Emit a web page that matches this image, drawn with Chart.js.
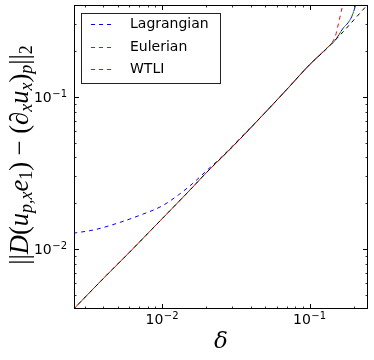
<!DOCTYPE html>
<html>
<head>
<meta charset="utf-8">
<script src="https://cdn.jsdelivr.net/npm/chart.js@4.4.1/dist/chart.umd.min.js"></script>
<style>
  html, body { margin: 0; padding: 0; background: #fff; }
  #wrap { width: 374px; height: 360px; }
</style>
</head>
<body>
<div id="wrap"><canvas id="c" width="374" height="360"></canvas></div>
<script>
    'use strict';

    // reference slope (black, no legend entry)
    const refDelta = [0.0025, 0.004, 0.006, 0.01, 0.015, 0.02, 0.03, 0.05, 0.07, 0.1, 0.13, 0.16, 0.2, 0.25];
    const refErr   = [0.004, 0.0064, 0.0095, 0.0158, 0.0237, 0.0318, 0.047, 0.079, 0.112, 0.163, 0.207, 0.254, 0.322, 0.41];

    const lagDelta = [0.0025, 0.0035, 0.005, 0.007, 0.01, 0.013, 0.016, 0.02, 0.025, 0.03, 0.05, 0.07, 0.1, 0.13, 0.15, 0.169, 0.182, 0.193, 0.206, 0.212];
    const lagErr   = [0.0127, 0.0134, 0.0148, 0.0166, 0.0192, 0.0228, 0.0268, 0.0327, 0.0398, 0.0475, 0.079, 0.112, 0.163, 0.208, 0.238, 0.284, 0.307, 0.337, 0.403, 0.43];

    const eulDelta = [0.0025, 0.004, 0.006, 0.01, 0.015, 0.02, 0.03, 0.05, 0.07, 0.1, 0.13, 0.15, 0.169, 0.182, 0.193, 0.206, 0.212];
    const eulErr   = [0.004, 0.0064, 0.0095, 0.0158, 0.0237, 0.0318, 0.047, 0.079, 0.112, 0.163, 0.208, 0.238, 0.284, 0.307, 0.337, 0.403, 0.43];

    const wtliDelta = [0.0025, 0.004, 0.006, 0.01, 0.015, 0.02, 0.03, 0.05, 0.07, 0.1, 0.13, 0.14, 0.149, 0.154, 0.159, 0.168, 0.172];
    const wtliErr   = [0.004, 0.0064, 0.0095, 0.0158, 0.0237, 0.0318, 0.047, 0.079, 0.112, 0.163, 0.208, 0.225, 0.248, 0.28, 0.321, 0.403, 0.44];

    const legendLabels = ['Lagrangian', 'Eulerian', 'WTLI'];
    const legendColors = ['#0000ff', '#008000', '#ff0000'];

    const xMajor = [0.01, 0.1];
    const yMajor = [0.01, 0.1];
    const X_MIN = 0.00253, X_MAX = 0.249;
    const Y_MIN = 0.00403, Y_MAX = 0.403;

    function pts(xs, ys) {
        return xs.map((x, i) => ({ x: x, y: ys[i] }));
    }

    function series(label, xs, ys, color, offset) {
        return {
            label,
            data: pts(xs, ys),
            borderColor: color,
            borderWidth: 1,
            borderDash: [4, 4],
            borderDashOffset: offset,
            pointRadius: 0,
            fill: false,
            cubicInterpolationMode: 'monotone'
        };
    }

    function minorTicks(min, max) {
        const out = [];
        for (let e = -4; e <= 1; e++) {
            for (let m = 2; m <= 9; m++) {
                const v = m * Math.pow(10, e);
                if (v >= min && v <= max) out.push(v);
            }
        }
        return out;
    }

    // "10" with superscript exponent
    function drawPow(ctx, exp, x, y, align) {
        const base = '10';
        const sup = '\u2212' + exp;
        ctx.font = '14px "DejaVu Sans"';
        const wb = ctx.measureText(base).width;
        ctx.font = '10px "DejaVu Sans"';
        const ws = ctx.measureText(sup).width;
        const total = wb + ws + 0.5;
        let left = x;
        if (align === 'center') left = x - total / 2;
        if (align === 'right') left = x - total;
        ctx.textAlign = 'left';
        ctx.textBaseline = 'alphabetic';
        ctx.font = '14px "DejaVu Sans"';
        ctx.fillText(base, left, y);
        ctx.font = '10px "DejaVu Sans"';
        ctx.fillText(sup, left + wb + 0.5, y - 5);
    }

    // y axis label as runs of math text
    const yTitleRuns = [
        { t: '||', s: 0, it: false },
        { t: 'D', s: 0, it: true },
        { t: '(', s: 0, it: false },
        { t: 'u', s: 0, it: true },
        { t: 'p,x', s: 1, it: true },
        { t: 'e', s: 0, it: true },
        { t: '1', s: 1, it: false },
        { t: ')', s: 0, it: false },
        { t: ' \u2212 ', s: 0, it: false },
        { t: '(', s: 0, it: false },
        { t: '\u2202', s: 0, it: false },
        { t: 'x', s: 1, it: true },
        { t: 'u', s: 0, it: true },
        { t: 'x', s: 1, it: true },
        { t: ')', s: 0, it: false },
        { t: 'p', s: 1, it: true },
        { t: '||', s: 0, it: false },
        { t: '2', s: 1, it: false }
    ];
    const Y_TITLE_LEN = 220;

    function runFont(r, size) {
        const px = r.s ? size * 0.68 : size;
        return (r.it ? 'italic ' : '') + px.toFixed(1) + 'px "Liberation Serif"';
    }

    function runsWidth(ctx, size) {
        let total = 0;
        yTitleRuns.forEach(r => { ctx.font = runFont(r, size); total += ctx.measureText(r.t).width; });
        return total;
    }

    function drawYTitle(ctx, cx, cy) {
        let size = 20;
        size = size * Y_TITLE_LEN / runsWidth(ctx, size);
        const total = runsWidth(ctx, size);
        ctx.save();
        ctx.translate(cx, cy);
        ctx.rotate(-Math.PI / 2);
        ctx.textAlign = 'left';
        ctx.textBaseline = 'alphabetic';
        let x = -total / 2;
        yTitleRuns.forEach(r => {
            ctx.font = runFont(r, size);
            ctx.fillText(r.t, x, r.s ? 9 : 5);
            x += ctx.measureText(r.t).width;
        });
        ctx.restore();
    }

    const framePlugin = {
        id: 'frame',
        afterDatasetsDraw(chart) {
            const ctx = chart.ctx;
            const a = chart.chartArea;
            const xs = chart.scales.x;
            const ys = chart.scales.y;
            ctx.save();
            ctx.fillStyle = '#000';
            ctx.strokeStyle = '#000';
            ctx.lineWidth = 1;

            // ticks, inward on all four sides
            function tickX(v, len) {
                const px = Math.round(xs.getPixelForValue(v)) + 0.5;
                ctx.beginPath();
                ctx.moveTo(px, a.bottom); ctx.lineTo(px, a.bottom - len);
                ctx.moveTo(px, a.top); ctx.lineTo(px, a.top + len);
                ctx.stroke();
            }
            function tickY(v, len) {
                const py = Math.round(ys.getPixelForValue(v)) + 0.5;
                ctx.beginPath();
                ctx.moveTo(a.left, py); ctx.lineTo(a.left + len, py);
                ctx.moveTo(a.right, py); ctx.lineTo(a.right - len, py);
                ctx.stroke();
            }
            ctx.strokeStyle = '#333';
            minorTicks(X_MIN, X_MAX).forEach(v => tickX(v, 2.5));
            minorTicks(Y_MIN, Y_MAX).forEach(v => tickY(v, 2.5));
            ctx.strokeStyle = '#000';
            xMajor.forEach(v => tickX(v, 5));
            yMajor.forEach(v => tickY(v, 5));

            ctx.strokeRect(Math.round(a.left) + 0.5, Math.round(a.top) + 0.5,
                Math.round(a.right - a.left) - 1, Math.round(a.bottom - a.top) - 1);

            // tick labels
            xMajor.forEach(v => {
                drawPow(ctx, Math.round(-Math.log10(v)), xs.getPixelForValue(v), a.bottom + 15, 'center');
            });
            yMajor.forEach(v => {
                drawPow(ctx, Math.round(-Math.log10(v)), a.left - 7, ys.getPixelForValue(v) + 5, 'right');
            });

            // axis titles
            ctx.font = 'italic 23px "DejaVu Serif"';
            ctx.textAlign = 'center';
            ctx.textBaseline = 'middle';
            ctx.fillText('\u03b4', (a.left + a.right) / 2, 342);
            drawYTitle(ctx, 23, 155);

            // legend
            const lx = 81.5, ly = 13.5, lw = 139, lh = 70;
            ctx.fillStyle = '#fff';
            ctx.fillRect(lx, ly, lw, lh);
            ctx.strokeStyle = '#222';
            ctx.strokeRect(lx, ly, lw, lh);
            legendLabels.forEach((lab, i) => {
                const ry = [24.5, 47.5, 69.5][i];
                ctx.strokeStyle = legendColors[i];
                ctx.setLineDash([4, 4]);
                ctx.beginPath();
                ctx.moveTo(91, ry); ctx.lineTo(114, ry);
                ctx.stroke();
                ctx.setLineDash([]);
                ctx.fillStyle = '#000';
                ctx.font = '14px "DejaVu Sans"';
                ctx.textAlign = 'left';
                ctx.textBaseline = 'middle';
                ctx.fillText(lab, 130, ry);
            });
            ctx.restore();
        }
    };

    new Chart(document.getElementById('c'), {
        type: 'line',
        data: {
            datasets: [
                series('ref', refDelta, refErr, '#000000', 0),
                series(legendLabels[2], wtliDelta, wtliErr, legendColors[2], 4),
                series(legendLabels[1], eulDelta, eulErr, legendColors[1], 2),
                series(legendLabels[0], lagDelta, lagErr, legendColors[0], 0)
            ]
        },
        options: {
            responsive: false,
            devicePixelRatio: 1,
            animation: false,
            layout: { padding: { left: 74, top: 5, right: 6, bottom: 51 } },
            plugins: { legend: { display: false }, tooltip: { enabled: false } },
            scales: {
                x: { type: 'logarithmic', min: X_MIN, max: X_MAX, display: false },
                y: { type: 'logarithmic', min: Y_MIN, max: Y_MAX, display: false }
            }
        },
        plugins: [framePlugin]
    });
</script>
</body>
</html>
